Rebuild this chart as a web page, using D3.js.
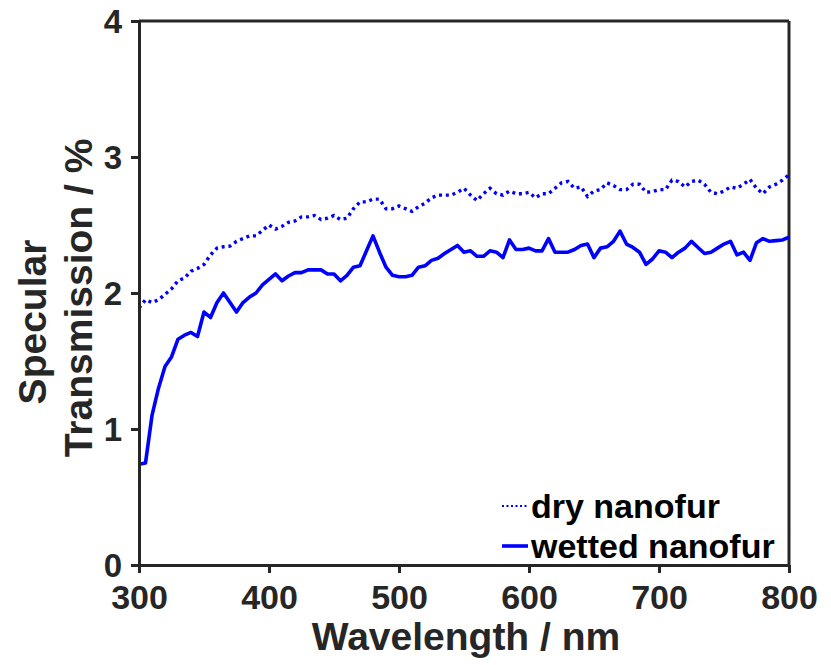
<!DOCTYPE html>
<html>
<head>
<meta charset="utf-8">
<script src="https://cdn.jsdelivr.net/npm/d3@7"></script>
<style>
  html, body { margin: 0; padding: 0; background: #fff; }
  svg { display: block; font-family: "Liberation Sans", Arial, Helvetica, sans-serif; font-weight: bold; }
</style>
</head>
<body>
<svg id="chart" width="831" height="665"></svg>
<script>
// ---- data ----
const wavelengths = d3.range(300, 801, 5);

const dryNanofur = [
  1.89, 1.95, 1.93, 1.95, 1.99, 2.03, 2.09, 2.11, 2.16, 2.18,
  2.21, 2.28, 2.33, 2.34, 2.345, 2.38, 2.40, 2.42, 2.42, 2.46,
  2.50, 2.47, 2.49, 2.52, 2.53, 2.56, 2.56, 2.57, 2.54, 2.55,
  2.57, 2.54, 2.55, 2.62, 2.67, 2.67, 2.69, 2.69, 2.62, 2.62,
  2.64, 2.62, 2.60, 2.635, 2.66, 2.70, 2.72, 2.72, 2.72, 2.74,
  2.77, 2.72, 2.68, 2.73, 2.77, 2.73, 2.72, 2.75, 2.73, 2.73,
  2.74, 2.70, 2.73, 2.73, 2.77, 2.81, 2.82, 2.77, 2.78, 2.71,
  2.75, 2.76, 2.81, 2.79, 2.76, 2.76, 2.80, 2.80, 2.74, 2.745,
  2.76, 2.76, 2.83, 2.82, 2.78, 2.82, 2.83, 2.80, 2.74, 2.73,
  2.75, 2.78, 2.77, 2.80, 2.835, 2.77, 2.73, 2.78, 2.80, 2.83,
  2.87
];

const wettedNanofur = [
  0.74, 0.75, 1.10, 1.30, 1.46, 1.53, 1.66, 1.69, 1.71, 1.68,
  1.86, 1.82, 1.93, 2.00, 1.93, 1.86, 1.93, 1.97, 2.00, 2.06,
  2.10, 2.14, 2.09, 2.125, 2.15, 2.15, 2.17, 2.17, 2.17, 2.14,
  2.14, 2.09, 2.13, 2.19, 2.20, 2.31, 2.42, 2.30, 2.19, 2.13,
  2.12, 2.12, 2.13, 2.19, 2.20, 2.24, 2.255, 2.29, 2.32, 2.35,
  2.30, 2.31, 2.27, 2.27, 2.31, 2.30, 2.26, 2.39, 2.32, 2.32,
  2.33, 2.31, 2.31, 2.40, 2.30, 2.30, 2.30, 2.32, 2.35, 2.36,
  2.26, 2.33, 2.34, 2.38, 2.455, 2.36, 2.335, 2.30, 2.21, 2.25,
  2.31, 2.30, 2.26, 2.30, 2.33, 2.38, 2.335, 2.29, 2.30, 2.33,
  2.36, 2.38, 2.28, 2.30, 2.24, 2.37, 2.40, 2.38, 2.385, 2.39,
  2.41
];

const xTicks = [300, 400, 500, 600, 700, 800];
const yTicks = [0, 1, 2, 3, 4];
const seriesNames = ["dry nanofur", "wetted nanofur"];
const xTitle = "Wavelength / nm";
const yTitleLines = ["Specular", "Transmission / %"];

// ---- layout ----
const svg = d3.select("#chart");
const plotL = 139, plotR = 789, plotT = 21, plotB = 565;
const axisColor = "#262626";
const blue = "#0000ff";

const x = d3.scaleLinear().domain([300, 800]).range([plotL, plotR]);
const y = d3.scaleLinear().domain([0, 4]).range([plotB, plotT]);

// frame (top and right)
svg.append("line").attr("x1", plotL).attr("x2", plotR).attr("y1", plotT).attr("y2", plotT)
  .attr("stroke", axisColor).attr("stroke-width", 3);
svg.append("line").attr("x1", plotR).attr("x2", plotR).attr("y1", plotT).attr("y2", plotB)
  .attr("stroke", axisColor).attr("stroke-width", 3);

// series lines
const line = d3.line().x((d, i) => x(wavelengths[i])).y(d => y(d));

svg.append("path").datum(dryNanofur)
  .attr("d", line).attr("fill", "none").attr("stroke", blue)
  .attr("stroke-width", 3.4).attr("stroke-dasharray", "3,3.8");

svg.append("path").datum(wettedNanofur)
  .attr("d", line).attr("fill", "none").attr("stroke", blue)
  .attr("stroke-width", 3.6).attr("stroke-linejoin", "round");

// axes
const xAxis = d3.axisBottom(x).tickValues(xTicks).tickSize(8).tickSizeOuter(0).tickPadding(11)
  .tickFormat(d3.format("d"));
const yAxis = d3.axisLeft(y).tickValues(yTicks).tickSize(8).tickSizeOuter(0).tickPadding(9)
  .tickFormat(d3.format("d"));

const gx = svg.append("g").attr("transform", `translate(0,${plotB})`).call(xAxis);
const gy = svg.append("g").attr("transform", `translate(${plotL},0)`).call(yAxis);

[gx, gy].forEach(g => {
  g.select(".domain").attr("stroke", axisColor).attr("stroke-width", 3);
  g.selectAll(".tick line").attr("stroke", axisColor).attr("stroke-width", 3);
  g.selectAll(".tick text").attr("fill", axisColor)
    .attr("font-family", '"Liberation Sans", Arial, sans-serif').attr("font-weight", "bold");
});
gx.selectAll(".tick text").attr("font-size", 34).attr("dy", "0.74em");
gy.selectAll(".tick text").attr("font-size", 33).attr("dy", "0.36em");

// axis titles
svg.append("text").attr("x", 466).attr("y", 650).attr("text-anchor", "middle")
  .attr("font-size", 39).attr("fill", axisColor).text(xTitle);

svg.append("text").attr("transform", "translate(46,322) rotate(-90)")
  .attr("text-anchor", "middle").attr("font-size", 39).attr("fill", axisColor).text(yTitleLines[0]);
svg.append("text").attr("transform", "translate(92,298) rotate(-90)")
  .attr("text-anchor", "middle").attr("font-size", 39).attr("fill", axisColor).text(yTitleLines[1]);

// legend
const legend = svg.append("g");
const legendRows = [
  { name: seriesNames[0], dash: "2,2.5", y: 506 },
  { name: seriesNames[1], dash: null, y: 546 }
];
legendRows.forEach(r => {
  const l = legend.append("line").attr("x1", 502).attr("x2", 528).attr("y1", r.y).attr("y2", r.y)
    .attr("stroke", blue).attr("stroke-width", r.dash ? 2 : 3.6);
  if (r.dash) l.attr("stroke-dasharray", r.dash);
  legend.append("text").attr("x", 531).attr("y", r.y + 12).attr("font-size", 34)
    .attr("fill", "#000").text(r.name);
});
</script>
</body>
</html>
